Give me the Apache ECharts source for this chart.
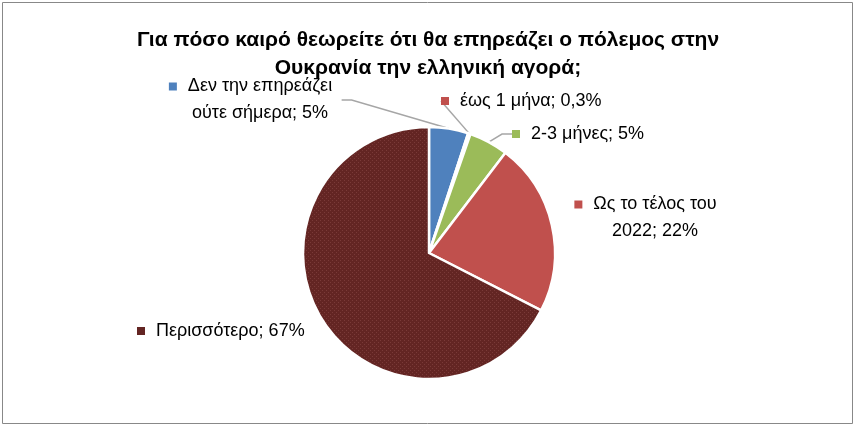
<!DOCTYPE html>
<html>
<head>
<meta charset="utf-8">
<script src="https://cdn.jsdelivr.net/npm/echarts@6/dist/echarts.min.js"></script>
<style>html,body{margin:0;padding:0;background:#fff}#c{width:856px;height:427px}</style>
</head>
<body>
<div id="c"></div>
<script>
var titleText = 'Για πόσο καιρό θεωρείτε ότι θα επηρεάζει ο πόλεμος στην\nΟυκρανία την ελληνική αγορά;';
var categories = ['Δεν την επηρεάζει ούτε σήμερα', 'έως 1 μήνα', '2-3 μήνες', 'Ως το τέλος του 2022', 'Περισσότερο'];
var values = [5, 0.3, 5, 22, 67];
var colors = ['#4F81BD', '#C0504D', '#9BBB59', '#C0504D', '#632523'];
var labelBreaks = ['Δεν την επηρεάζει\nούτε σήμερα', null, null, 'Ως το τέλος του\n2022', null];

var labelPos = [
  {x: 260, y: 100, align: 'center'},
  {x: 441, y: 101, align: 'left'},
  {x: 512, y: 134, align: 'left'},
  {x: 655, y: 218, align: 'center'},
  {x: 137, y: 331, align: 'left'}
];

// dotted texture for the dark slice
var pat = document.createElement('canvas');
pat.width = 4; pat.height = 4;
var pctx = pat.getContext('2d');
pctx.fillStyle = colors[4];
pctx.fillRect(0, 0, 4, 4);
pctx.fillStyle = '#7a3a38';
pctx.fillRect(0, 0, 1, 1);
pctx.fillRect(2, 2, 1, 1);

var rich = {};
colors.forEach(function (c, i) {
  rich['m' + i] = {backgroundColor: c, width: 8, height: 8};
});
rich.g = {width: 11, height: 8};
rich.s = {width: 19, height: 8};
rich.t = {fontSize: 18, color: '#000', fontFamily: 'Liberation Sans, Arial, sans-serif', lineHeight: 27};

var data = categories.map(function (name, i) {
  return {
    name: name,
    value: values[i],
    itemStyle: {color: i === 4 ? {image: pat, repeat: 'repeat'} : colors[i]},
    labelLine: {show: i < 3}
  };
});

function fmtVal(v) { return String(v).replace('.', ','); }

var chart = echarts.init(document.getElementById('c'), null, {renderer: 'canvas'});
chart.setOption({
  animation: false,
  backgroundColor: '#fff',
  title: {
    text: titleText,
    left: 'center',
    top: 21,
    textStyle: {fontSize: 21, fontWeight: 'bold', color: '#000', fontFamily: 'Liberation Sans, Arial, sans-serif', lineHeight: 28}
  },
  graphic: [{
    type: 'rect',
    shape: {x: 2.5, y: 2.5, width: 850, height: 421},
    style: {fill: 'none', stroke: '#888', lineWidth: 1},
    silent: true
  }],
  series: [{
    type: 'pie',
    center: [429, 253],
    radius: 126,
    startAngle: 90,
    clockwise: true,
    data: data,
    itemStyle: {borderColor: '#fff', borderWidth: 2.5},
    label: {
      show: true,
      position: 'outside',
      rich: rich,
      formatter: function (p) {
        var i = p.dataIndex;
        var txt = (labelBreaks[i] || categories[i]) + '; ' + fmtVal(values[i]) + '%';
        var lines = txt.split('\n');
        if (lines.length > 1) {
          return '{m' + i + '|}{g|}{t|' + lines[0] + '}{s|}\n{t|' + lines[1] + '}';
        }
        return '{m' + i + '|}{g|}{t|' + lines[0] + '}';
      }
    },
    labelLine: {lineStyle: {color: '#a6a6a6', width: 1.5}, length: 10, length2: 10},
    labelLayout: function (params) {
      var p = labelPos[params.dataIndex];
      return {x: p.x, y: p.y, align: p.align, verticalAlign: 'middle'};
    }
  }]
});
</script>
</body>
</html>
